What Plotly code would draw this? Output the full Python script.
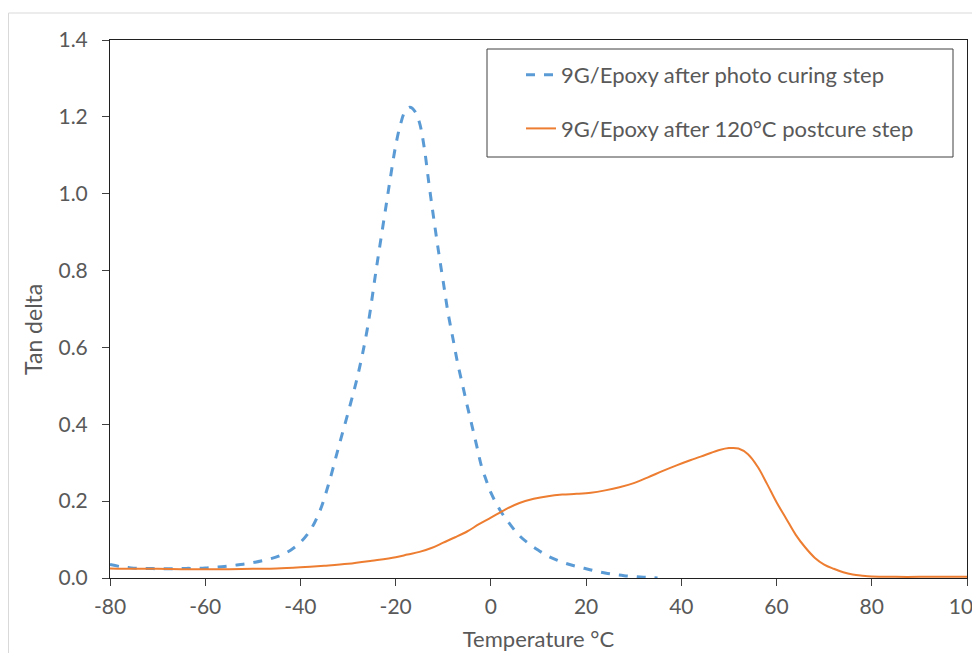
import plotly.graph_objects as go

# Blue: after photo curing step
temp_photo = [-80, -78, -76, -74, -72, -70, -68, -66, -64, -62, -60, -58, -56, -54, -52, -50,
              -48, -46, -44, -42, -40, -38, -36, -34, -32, -30, -28, -26, -24, -22, -21, -20,
              -19, -18, -17, -16, -15, -14, -13, -12, -11, -10, -9, -8, -7, -6, -5, -4, -3,
              -2, -1, 0, 2, 4, 6, 8, 10, 12, 14, 16, 18, 20, 22, 24, 26, 28, 30, 32, 34, 35]
tan_photo = [0.035, 0.030, 0.027, 0.025, 0.025, 0.024, 0.024, 0.024, 0.025, 0.025, 0.026, 0.028,
             0.030, 0.033, 0.036, 0.040, 0.045, 0.051, 0.060, 0.073, 0.093, 0.123, 0.172, 0.248,
             0.340, 0.430, 0.525, 0.645, 0.810, 0.970, 1.050, 1.125, 1.180, 1.215, 1.225, 1.215,
             1.185, 1.120, 1.025, 0.935, 0.850, 0.770, 0.690, 0.625, 0.560, 0.505, 0.450, 0.398,
             0.345, 0.292, 0.255, 0.222, 0.175, 0.140, 0.110, 0.089, 0.072, 0.057, 0.046, 0.037,
             0.030, 0.024, 0.018, 0.013, 0.009, 0.006, 0.004, 0.002, 0.001, 0.000]

# Orange: after 120°C postcure step
temp_post = [-80, -75, -70, -65, -60, -55, -50, -45, -40, -35, -30, -25, -20, -17.5, -15, -12.5,
             -10, -7.5, -5, -2.5, 0, 3, 6, 9, 12, 15, 18, 21, 24, 27, 30, 33, 36, 39, 42, 45, 48,
             50, 52, 54, 56, 58, 60, 62, 64, 66, 68, 70, 72, 74, 76, 78, 80, 85, 90, 95, 100]
tan_post = [0.025, 0.024, 0.024, 0.023, 0.023, 0.023, 0.024, 0.025, 0.028, 0.032, 0.037, 0.045,
            0.054, 0.061, 0.068, 0.078, 0.092, 0.106, 0.121, 0.140, 0.157, 0.178, 0.195, 0.206,
            0.213, 0.217, 0.219, 0.222, 0.228, 0.236, 0.247, 0.262, 0.278, 0.293, 0.307, 0.320,
            0.333, 0.338, 0.337, 0.322, 0.290, 0.245, 0.197, 0.155, 0.113, 0.080, 0.053, 0.035,
            0.024, 0.015, 0.009, 0.006, 0.004, 0.003, 0.003, 0.003, 0.003]

x_ticks = [-80, -60, -40, -20, 0, 20, 40, 60, 80, 100]
x_tick_labels = ["-80", "-60", "-40", "-20", "0", "20", "40", "60", "80", "100"]
y_ticks = [0.0, 0.2, 0.4, 0.6, 0.8, 1.0, 1.2, 1.4]
y_tick_labels = ["0.0", "0.2", "0.4", "0.6", "0.8", "1.0", "1.2", "1.4"]

FONT = "Lato"
GREY = "#595959"
FS = 21

W, H = 972, 645
L, T = 102, 32
R, B = W - 959, H - 570
PW, PH = W - L - R, H - T - B

def px(xp):
    return (xp - L) / PW

def py(yp):
    return (H - B - yp) / PH

fig = go.Figure()
fig.add_trace(go.Scatter(x=temp_photo, y=tan_photo, mode="lines",
                         name="9G/Epoxy after photo curing step", legendgroup="a",
                         line=dict(color="#5B9BD5", width=3, dash="dash", shape="spline")))
fig.add_trace(go.Scatter(x=temp_post, y=tan_post, mode="lines",
                         name="9G/Epoxy after 120°C postcure step", legendgroup="b",
                         line=dict(color="#ED7D31", width=2, shape="spline")))

fig.update_layout(
    width=W, height=H,
    margin=dict(l=L, r=R, t=T, b=B, autoexpand=False),
    paper_bgcolor="white", plot_bgcolor="white",
    font=dict(family=FONT, color=GREY, size=FS),
    showlegend=True,
    legend=dict(x=px(479), y=py(46), xanchor="left", yanchor="top",
                bgcolor="rgba(0,0,0,0)", borderwidth=0,
                font=dict(size=22, color=GREY, family=FONT),
                tracegroupgap=22, traceorder="grouped", indentation=34,
                itemwidth=30),
    xaxis=dict(range=[-80, 100], tickvals=x_ticks, ticktext=x_tick_labels, ticks="outside",
               ticklen=7, tickcolor="#404040", showline=True, linecolor="#202020",
               linewidth=1, mirror=True, showgrid=False, zeroline=False,
               ticklabeloverflow="allow", automargin=False, ticklabelstandoff=3,
               tickfont=dict(size=FS, color=GREY),
               title=dict(text="Temperature °C", font=dict(size=22, color=GREY), standoff=14)),
    yaxis=dict(range=[0, 1.4], tickvals=y_ticks, ticktext=y_tick_labels, ticks="outside",
               ticklen=7, tickcolor="#404040", showline=True, linecolor="#202020",
               linewidth=1, mirror=True, showgrid=False, zeroline=False,
               ticklabelstandoff=10, automargin=False,
               tickfont=dict(size=FS, color=GREY)),
    annotations=[dict(text="Tan delta", x=px(25), y=py(322), xref="paper", yref="paper",
                      xanchor="center", yanchor="middle",
                      textangle=-90, showarrow=False, font=dict(size=23, color=GREY))],
    shapes=[dict(type="line", xref="paper", yref="paper", x0=px(0.5), x1=px(W),
                 y0=py(5), y1=py(5), line=dict(color="#D9D9D9", width=1)),
            dict(type="line", xref="paper", yref="paper", x0=px(0.5), x1=px(0.5),
                 y0=py(5), y1=py(H), line=dict(color="#D9D9D9", width=1)),
            # legend frame
            dict(type="rect", xref="paper", yref="paper", x0=px(479), x1=px(945),
                 y0=py(149), y1=py(41), line=dict(color="#404040", width=1),
                 fillcolor="white", layer="below")],
)

fig.write_html("out.html")
